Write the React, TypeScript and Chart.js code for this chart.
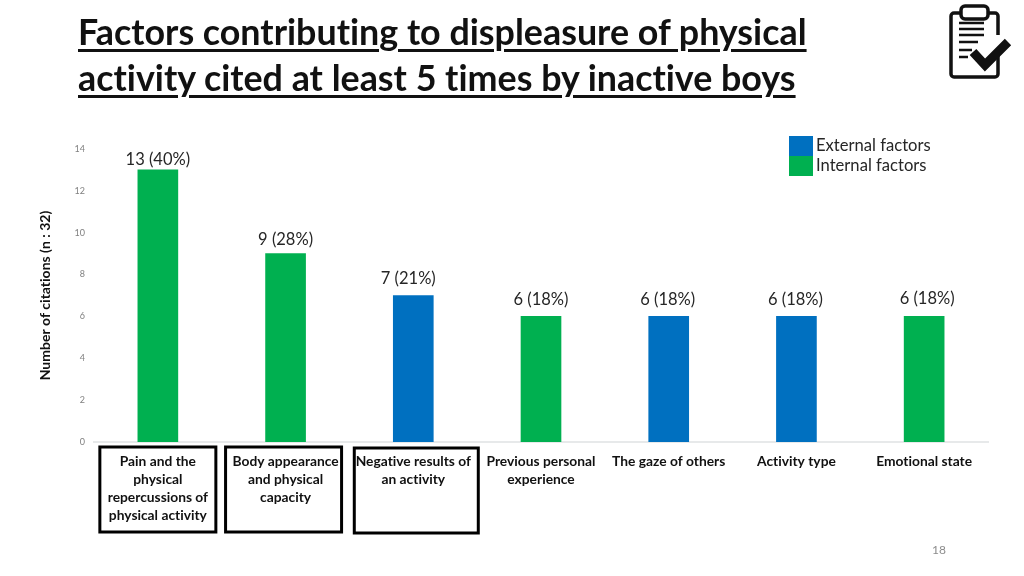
import React, { useEffect, useRef } from "react";
import { Chart, registerables } from "chart.js";

Chart.register(...registerables);

const titleLines = [
  "Factors contributing to displeasure of physical",
  "activity cited at least 5 times by inactive boys",
];
const categories = [
  ["Pain and the", "physical", "repercussions of", "physical activity"],
  ["Body appearance", "and physical", "capacity"],
  ["Negative results of", "an activity"],
  ["Previous personal", "experience"],
  ["The gaze of others"],
  ["Activity type"],
  ["Emotional state"],
];
const externalFactors = [null, null, 7, null, 6, 6, null];
const internalFactors = [13, 9, null, 6, null, null, 6];
const valueLabels = ["13 (40%)", "9 (28%)", "7 (21%)", "6 (18%)", "6 (18%)", "6 (18%)", "6 (18%)"];
const labelNudgeX = [0, 0, -5, 0, -1, -1, 3];
const labelNudgeY = [-10, -14, -17, -17, -17, -17, -18];
const boxedCategories = [0, 1, 2];
const boxShift = [0, -2, 3];
const boxWidth = [116, 116, 124];
const boxTop = [447, 447, 448];
const boxHeight = [85, 85, 85];

const BLUE = "#0070C0";
const GREEN = "#00B050";
const FONT = "Lato, 'Open Sans', sans-serif";

const overlay = {
  id: "overlay",
  beforeInit(chart: any) {
    chart.canvas.style.fontVariantLigatures = "none";
    chart.ctx.fontKerning = "normal";
    chart.ctx.textRendering = "optimizeSpeed";
  },
  afterDatasetsDraw(chart: any) {
    const { ctx, scales } = chart;
    ctx.save();
    ctx.font = `16.5px ${FONT}`;
    ctx.fillStyle = "#262626";
    ctx.textAlign = "center";
    ctx.textBaseline = "middle";
    valueLabels.forEach((text, i) => {
      const v = externalFactors[i] ?? internalFactors[i];
      ctx.fillText(
        text,
        scales.x.getPixelForTick(i) + labelNudgeX[i],
        scales.y.getPixelForValue(v as number) + labelNudgeY[i]
      );
    });
    ctx.strokeStyle = "#000";
    ctx.lineWidth = 3;
    boxedCategories.forEach((c, i) => {
      const cx = scales.x.getPixelForTick(c) + boxShift[i];
      ctx.strokeRect(cx - boxWidth[i] / 2, boxTop[i], boxWidth[i], boxHeight[i]);
    });
    chart.data.datasets.forEach((ds: any, i: number) => {
      const y = 136 + i * 20;
      ctx.fillStyle = ds.backgroundColor;
      ctx.fillRect(789, y, 24, 20);
      ctx.fillStyle = "#262626";
      ctx.font = `16.6px ${FONT}`;
      ctx.textAlign = "left";
      ctx.fillText(ds.label, 816, y + 10);
    });
    ctx.restore();
  },
};

export default function App() {
  const ref = useRef<HTMLCanvasElement>(null);
  useEffect(() => {
    const chart = new Chart(ref.current as HTMLCanvasElement, {
      type: "bar",
      data: {
        labels: categories as any,
        datasets: [
          { label: "External factors", data: externalFactors as any, backgroundColor: BLUE, barThickness: 40 },
          { label: "Internal factors", data: internalFactors as any, backgroundColor: GREEN, barThickness: 40 },
        ],
      },
      options: {
        responsive: false,
        animation: false,
        devicePixelRatio: 1,
        layout: { padding: { top: 149, right: 36, left: 0, bottom: 0 } },
        plugins: { legend: { display: false }, tooltip: { enabled: false } },
        scales: {
          x: {
            stacked: true,
            afterFit: (s: any) => { s.height = 134; },
            grid: { display: false },
            border: { display: true, color: "#e7e9ea", width: 2 },
            ticks: {
              autoSkip: false,
              maxRotation: 0,
              minRotation: 0,
              padding: 2,
              color: "#111",
              font: { family: FONT, size: 13.8, weight: "bold", lineHeight: 1.325 },
            },
          },
          y: {
            stacked: true,
            min: 0,
            max: 14,
            afterFit: (s: any) => { s.width = 94; },
            grid: { display: false },
            border: { display: false },
            ticks: {
              stepSize: 2,
              padding: 1,
              color: "#808080",
              font: { family: FONT, size: 9 },
            },
            title: {
              display: true,
              text: "Number of citations (n : 32)",
              color: "#111",
              padding: { top: 37, bottom: 0 },
              font: { family: FONT, size: 14, weight: "bold" },
            },
          },
        },
      },
      plugins: [overlay],
    } as any);
    return () => chart.destroy();
  }, []);

  return (
    <div style={{ position: "absolute", left: 0, top: 0, width: 1024, height: 576, background: "#fff", overflow: "hidden" }}>
      <canvas ref={ref} width={1024} height={576} style={{ position: "absolute", left: 0, top: 0 }} />
      <div
        style={{
          position: "absolute", left: 78, top: 9, fontFamily: FONT, fontWeight: 700, fontSize: 35.85, fontVariantLigatures: "none",
          lineHeight: "46px", color: "#111", whiteSpace: "nowrap", textDecoration: "underline",
          textDecorationThickness: 3, textUnderlineOffset: 4,
        }}
      >
        {titleLines.map((t) => <div key={t}>{t}</div>)}
      </div>
      <div style={{ position: "absolute", left: 932, top: 542, fontFamily: FONT, fontSize: 12, color: "#8c8c8c" }}>18</div>
      <svg style={{ position: "absolute", left: 948, top: 2 }} width="70" height="78" viewBox="0 0 70 78">
        <path d="M12 11H6a3 3 0 0 0-3 3v58a3 3 0 0 0 3 3h41a3 3 0 0 0 3-3V52M50 33V14a3 3 0 0 0-3-3h-7" fill="none" stroke="#111" strokeWidth="3.5" />
        <rect x="13" y="4" width="27" height="13" rx="4" fill="none" stroke="#111" strokeWidth="3.5" />
        <path d="M11 21H36M11 27H36M11 33H36M11 40H30M11 48H24M11 55H20" stroke="#111" strokeWidth="2.5" fill="none" />
        <path d="M25 50L37 63L60 40" stroke="#111" strokeWidth="9" fill="none" />
      </svg>
    </div>
  );
}
